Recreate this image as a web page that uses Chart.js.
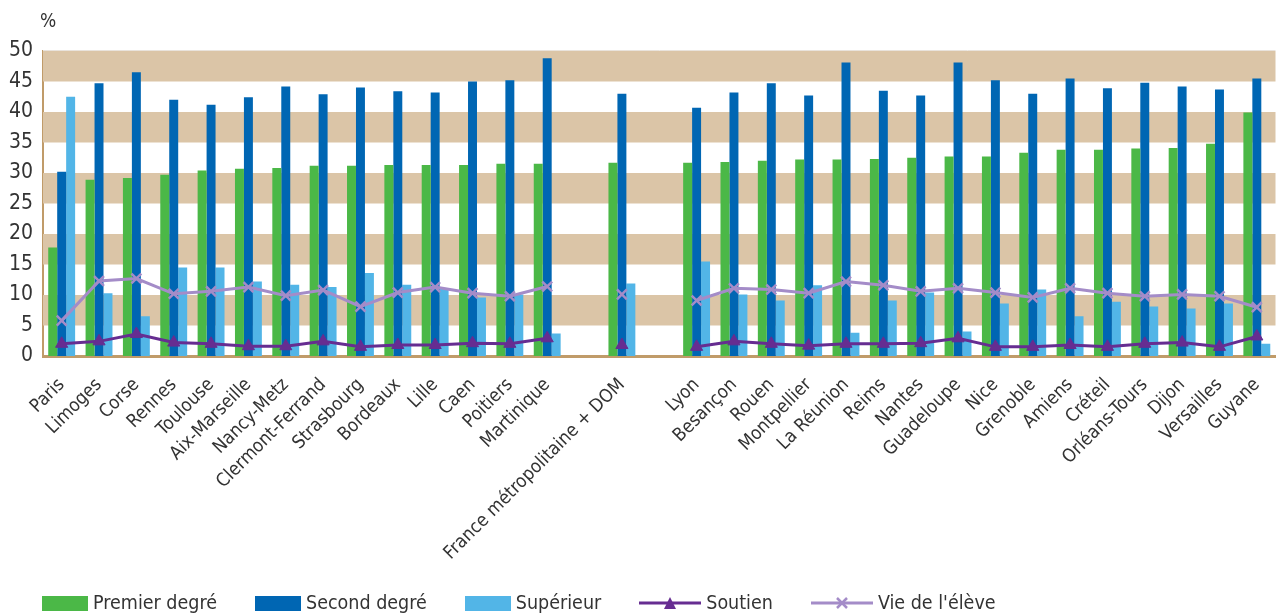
<!DOCTYPE html>
<html lang="fr">
<head>
<meta charset="utf-8">
<script src="https://cdn.jsdelivr.net/npm/chart.js@4/dist/chart.umd.min.js"></script>
<style>
  html, body { margin: 0; padding: 0; background: #fff; }
  body { font-family: 'Liberation Sans Narrow', 'DejaVu Sans Condensed', 'Roboto', sans-serif; color: #333; }
  #wrap { position: relative; width: 1285px; height: 614px; overflow: hidden; }
  #unit { position: absolute; left: 40px; top: 9px; font-size: 19px; }
  #legend { position: absolute; left: 42px; top: 591px; display: flex; gap: 38px; font-size: 19.5px; line-height: 24px; }
  #legend .item { display: flex; align-items: center; gap: 5px; }
  #legend .box { width: 46px; height: 15px; }
</style>
</head>
<body>
<div id="wrap">
  <canvas id="chart" width="1285" height="614"></canvas>
  <div id="unit">%</div>
  <div id="legend"></div>
</div>
<script>
// academies, with empty slots around the national value
const categories = [
  'Paris', 'Limoges', 'Corse', 'Rennes', 'Toulouse', 'Aix-Marseille', 'Nancy-Metz',
  'Clermont-Ferrand', 'Strasbourg', 'Bordeaux', 'Lille', 'Caen', 'Poitiers', 'Martinique',
  '', 'France métropolitaine + DOM', '',
  'Lyon', 'Besançon', 'Rouen', 'Montpellier', 'La Réunion', 'Reims', 'Nantes', 'Guadeloupe',
  'Nice', 'Grenoble', 'Amiens', 'Créteil', 'Orléans-Tours', 'Dijon', 'Versailles', 'Guyane'
];

const premierDegre = [17.8, 28.9, 29.2, 29.7, 30.4, 30.7, 30.8, 31.2, 31.2, 31.3, 31.3, 31.3, 31.5, 31.5,
  null, 31.7, null,
  31.7, 31.8, 32.0, 32.2, 32.2, 32.3, 32.5, 32.7, 32.7, 33.3, 33.8, 33.8, 34.0, 34.1, 34.8, 39.9];

const secondDegre = [30.2, 44.7, 46.5, 42.0, 41.2, 42.4, 44.2, 42.9, 44.0, 43.4, 43.2, 45.0, 45.2, 48.8,
  null, 43.0, null,
  40.7, 43.2, 44.7, 42.7, 48.1, 43.5, 42.7, 48.1, 45.2, 43.0, 45.5, 43.9, 44.8, 44.2, 43.7, 45.5];

const superieur = [42.5, 10.3, 6.5, 14.5, 14.5, 12.2, 11.7, 11.3, 13.6, 11.7, 11.1, 9.6, 10.1, 3.7,
  null, 11.9, null,
  15.5, 10.1, 9.1, 11.6, 3.8, 9.1, 10.4, 4.0, 8.6, 10.9, 6.5, 8.9, 8.1, 7.8, 8.6, 2.0];

const soutien = [2.0, 2.4, 3.6, 2.2, 2.0, 1.6, 1.6, 2.4, 1.5, 1.8, 1.8, 2.1, 2.0, 2.9,
  null, 1.8, null,
  1.5, 2.4, 2.0, 1.7, 2.0, 2.0, 2.1, 2.9, 1.5, 1.5, 1.8, 1.5, 2.0, 2.2, 1.5, 3.2];

const vieEleve = [5.8, 12.3, 12.7, 10.2, 10.6, 11.3, 9.9, 10.8, 8.1, 10.4, 11.3, 10.3, 9.8, 11.4,
  null, 10.1, null,
  9.1, 11.1, 10.9, 10.3, 12.2, 11.6, 10.6, 11.1, 10.4, 9.6, 11.1, 10.3, 9.8, 10.1, 9.8, 8.0];

const yTicks = [0, 5, 10, 15, 20, 25, 30, 35, 40, 45, 50];

const FONT = "'Liberation Sans Narrow', 'DejaVu Sans Condensed', 'Roboto', sans-serif";
const TAN = '#dbc5a7';
const AXIS = '#c09b69';

// alternate tan bands behind the bars (5-10, 15-20, ...)
const bandsPlugin = {
  id: 'bands',
  beforeDatasetsDraw(chart) {
    const { ctx, chartArea: a, scales: { y } } = chart;
    ctx.save();
    ctx.fillStyle = TAN;
    for (let i = 1; i < yTicks.length - 1; i += 2) {
      const top = y.getPixelForValue(yTicks[i + 1]);
      const bottom = y.getPixelForValue(yTicks[i]);
      ctx.fillRect(a.left, top, a.right - a.left, bottom - top);
    }
    ctx.strokeStyle = '#e9e3dc';
    ctx.lineWidth = 1;
    ctx.beginPath();
    ctx.moveTo(a.left, y.getPixelForValue(50) - 0.5);
    ctx.lineTo(a.right, y.getPixelForValue(50) - 0.5);
    ctx.stroke();
    ctx.restore();
  }
};

const bar = (label, data, color) => ({
  type: 'bar', label, data, backgroundColor: color, order: 1,
  barPercentage: 1, categoryPercentage: 0.72
});

const line = (label, data, color, style, extra) => ({
  type: 'line', label, data, order: 0,
  borderColor: color, backgroundColor: color, borderWidth: 3,
  pointStyle: style, pointRadius: 7, pointBorderColor: color, pointBackgroundColor: color,
  spanGaps: false, ...extra
});

const datasets = [
  bar('Premier degré', premierDegre, '#4bb847'),
  bar('Second degré', secondDegre, '#0066b3'),
  bar('Supérieur', superieur, '#52b5e7'),
  line('Soutien', soutien, '#662d91', 'triangle', { pointBorderWidth: 1 }),
  line('Vie de l\'élève', vieEleve, '#a48cc8', 'crossRot', { pointBorderWidth: 2.5 })
];

new Chart(document.getElementById('chart'), {
  data: { labels: categories, datasets },
  options: {
    responsive: false,
    animation: false,
    layout: { padding: { top: 51, right: -5, left: 0, bottom: 0 } },
    plugins: { legend: { display: false }, tooltip: { enabled: false } },
    scales: {
      x: {
        grid: { display: false, drawTicks: false },
        border: { color: AXIS, width: 3 },
        ticks: {
          autoSkip: false, minRotation: 45, maxRotation: 45, padding: 18,
          color: '#333', font: { family: FONT, size: 18.5 }
        },
        afterFit(scale) {
          scale.height = 258;
          // rotated labels end at their tick, no side room needed
          scale.paddingLeft = 0;
          scale.paddingRight = 0;
        }
      },
      y: {
        min: 0, max: 50,
        grid: { display: false, drawTicks: false },
        border: { color: AXIS, width: 2 },
        ticks: {
          stepSize: 5, padding: 10, color: '#333',
          font: { family: FONT, size: 21 }
        },
        afterFit(scale) { scale.width = 43; }
      }
    }
  },
  plugins: [bandsPlugin]
});

// legend below the chart
const legend = document.getElementById('legend');
datasets.forEach((ds) => {
  const item = document.createElement('div');
  item.className = 'item';
  let icon;
  if (ds.type === 'bar') {
    icon = `<span class="box" style="background:${ds.backgroundColor}"></span>`;
  } else {
    const marker = ds.pointStyle === 'triangle'
      ? `<polygon points="31,3 37,15 25,15" fill="${ds.borderColor}"/>`
      : `<path d="M26,4 L36,14 M36,4 L26,14" stroke="${ds.borderColor}" stroke-width="2.5"/>`;
    icon = `<svg width="62" height="18"><line x1="0" y1="9" x2="62" y2="9" stroke="${ds.borderColor}" stroke-width="3"/>${marker}</svg>`;
  }
  item.innerHTML = `${icon}<span>${ds.label}</span>`;
  legend.appendChild(item);
});
</script>
</body>
</html>
